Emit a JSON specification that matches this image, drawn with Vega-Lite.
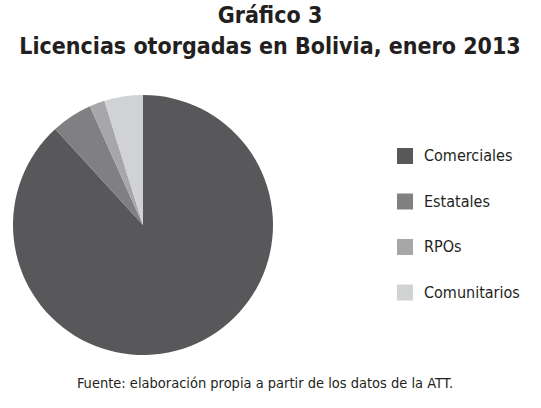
{
  "$schema": "https://vega.github.io/schema/vega-lite/v6.json",
  "padding": {"left": 13, "top": 5, "right": 5, "bottom": 5},
  "background": "white",
  "config": {"view": {"stroke": null}, "font": "DejaVu Sans Condensed"},
  "title": {
    "text": ["Gráfico 3", "Licencias otorgadas en Bolivia, enero 2013"],
    "font": "DejaVu Sans Condensed",
    "fontSize": 23,
    "fontWeight": "bold",
    "color": "#231f20",
    "anchor": "middle",
    "frame": "group",
    "dx": 127,
    "lineHeight": 31,
    "offset": 36
  },
  "vconcat": [
    {
      "width": 260,
      "height": 260,
      "title": {
        "text": "Fuente: elaboración propia a partir de los datos de la ATT.",
        "orient": "bottom",
        "anchor": "middle",
        "frame": "group",
        "dx": 122,
        "offset": 22,
        "font": "DejaVu Sans Condensed",
        "fontSize": 14.5,
        "fontWeight": "normal",
        "color": "#231f20"
      },
      "data": {
        "values": [
          {"tipo": "Comerciales", "porcentaje": 88.2, "orden": 1},
          {"tipo": "Estatales", "porcentaje": 5.1, "orden": 2},
          {"tipo": "RPOs", "porcentaje": 1.9, "orden": 3},
          {"tipo": "Comunitarios", "porcentaje": 4.8, "orden": 4}
        ]
      },
      "mark": {"type": "arc", "outerRadius": 130, "stroke": null},
      "encoding": {
        "theta": {"field": "porcentaje", "type": "quantitative", "stack": true},
        "order": {"field": "orden", "type": "quantitative"},
        "color": {
          "field": "tipo",
          "type": "nominal",
          "sort": ["Comerciales", "Estatales", "RPOs", "Comunitarios"],
          "scale": {
            "domain": ["Comerciales", "Estatales", "RPOs", "Comunitarios"],
            "range": ["#58585a", "#808082", "#a7a7a9", "#d1d2d4"]
          },
          "legend": {
            "title": null,
            "orient": "none",
            "legendX": 384,
            "legendY": 53,
            "padding": 0,
            "symbolType": "square",
            "symbolSize": 256,
            "symbolStrokeWidth": 0,
            "symbolOpacity": 1,
            "labelFont": "DejaVu Sans Condensed",
            "labelFontSize": 16,
            "labelColor": "#231f20",
            "labelOffset": 11,
            "rowPadding": 29.5
          }
        }
      }
    }
  ]
}
